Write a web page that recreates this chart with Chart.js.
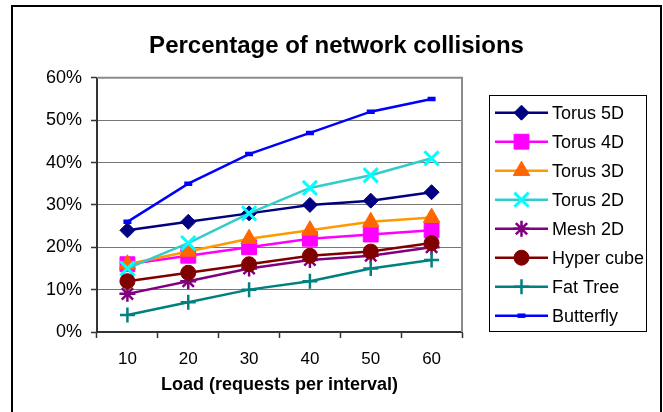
<!DOCTYPE html>
<html>
<head>
<meta charset="utf-8">
<script src="https://cdn.jsdelivr.net/npm/chart.js@4/dist/chart.umd.min.js"></script>
<style>
  html, body { margin: 0; padding: 0; background: #ffffff; }
  #wrap { width: 663px; height: 412px; position: relative; }
</style>
</head>
<body>
<div id="wrap"><canvas id="chart" width="663" height="412"></canvas></div>
<script>
// Load levels (requests per interval) and the collision percentage of each topology
const loads = ['10', '20', '30', '40', '50', '60'];
const yTicks = [0, 10, 20, 30, 40, 50, 60];

const torus5D   = [24, 26, 28, 30, 31, 33];
const torus4D   = [16, 18, 20, 22, 23, 24];
const torus3D   = [16, 19, 22, 24, 26, 27];
const torus2D   = [15, 21, 28, 34, 37, 41];
const mesh2D    = [9, 12, 15, 17, 18, 20];
const hyperCube = [12, 14, 16, 18, 19, 21];
const fatTree   = [4, 7, 10, 12, 15, 17];
const butterfly = [26, 35, 42, 47, 52, 55];

const seriesNames = ['Torus 5D', 'Torus 4D', 'Torus 3D', 'Torus 2D', 'Mesh 2D', 'Hyper cube', 'Fat Tree', 'Butterfly'];
const seriesValues = [torus5D, torus4D, torus3D, torus2D, mesh2D, hyperCube, fatTree, butterfly];

const FONT = '"Liberation Sans", Arial, Helvetica, sans-serif';

// Line colour, marker shape and marker colours per series
const styles = [
  { line: '#000080', point: 'rectRot',  r: 7.5, fill: '#000080', stroke: '#000080', bw: 1 },
  { line: '#FF00FF', point: 'rect',     r: 10.5, fill: '#FF00FF', stroke: '#FF00FF', bw: 1 },
  { line: '#FF9900', point: 'triangle', r: 9.5, fill: '#FF6600', stroke: '#FF6600', bw: 1 },
  { line: '#33CCCC', point: 'crossRot', r: 10,  fill: 'rgba(0,0,0,0)', stroke: '#00FFFF', bw: 3 },
  { line: '#800080', point: 'star',     r: 8,   fill: 'rgba(0,0,0,0)', stroke: '#800080', bw: 2.5 },
  { line: '#800000', point: 'circle',   r: 7.5, fill: '#800000', stroke: '#800000', bw: 1 },
  { line: '#008080', point: 'cross',    r: 7.5, fill: 'rgba(0,0,0,0)', stroke: '#008080', bw: 2.5 },
  { line: '#0000FF', point: 'line',     r: 4,   fill: '#0000FF', stroke: '#0000FF', bw: 4.5 }
];

const datasets = seriesNames.map((name, i) => ({
  label: name,
  data: seriesValues[i],
  borderColor: styles[i].line,
  backgroundColor: styles[i].line,
  borderWidth: 2.5,
  tension: 0,
  fill: false,
  pointStyle: styles[i].point,
  pointRadius: styles[i].r,
  pointHoverRadius: styles[i].r,
  pointBackgroundColor: styles[i].fill,
  pointBorderColor: styles[i].stroke,
  pointBorderWidth: styles[i].bw,
  order: seriesNames.length - i   // later series are painted on top
}));

// Outer frame of the chart and the grey top/right edges of the plot area
const framePlugin = {
  id: 'frame',
  beforeDatasetsDraw(chart) {
    const { ctx, chartArea: a } = chart;
    ctx.save();
    ctx.strokeStyle = '#8c8c8c';
    ctx.lineWidth = 2;
    ctx.beginPath();
    ctx.moveTo(a.left, a.top);
    ctx.lineTo(a.right, a.top);
    ctx.lineTo(a.right, a.bottom);
    ctx.stroke();
    ctx.restore();
  },
  afterDraw(chart) {
    const { ctx } = chart;
    ctx.save();
    ctx.strokeStyle = '#000000';
    ctx.lineWidth = 2;
    ctx.strokeRect(12, 6, 649, 420);
    ctx.restore();
  }
};

// Boxed legend on the right: a line segment with the series marker, then the name
const boxLegendPlugin = {
  id: 'boxLegend',
  afterDraw(chart) {
    const { ctx } = chart;
    const box = { x: 489.5, y: 95.5, w: 157, h: 236 };
    const firstY = 112.7, step = 29;
    ctx.save();
    ctx.fillStyle = '#ffffff';
    ctx.fillRect(box.x, box.y, box.w, box.h);
    ctx.strokeStyle = '#000000';
    ctx.lineWidth = 1;
    ctx.strokeRect(box.x, box.y, box.w, box.h);
    chart.data.datasets.forEach((ds, i) => {
      const y = firstY + step * i;
      ctx.strokeStyle = ds.borderColor;
      ctx.lineWidth = ds.borderWidth;
      ctx.beginPath();
      ctx.moveTo(495, y);
      ctx.lineTo(548, y);
      ctx.stroke();
      ctx.fillStyle = ds.pointBackgroundColor;
      ctx.strokeStyle = ds.pointBorderColor;
      ctx.lineWidth = ds.pointBorderWidth;
      Chart.helpers.drawPoint(ctx, {
        pointStyle: ds.pointStyle,
        radius: ds.pointRadius,
        borderWidth: ds.pointBorderWidth,
        rotation: 0
      }, 521.5, y);
      ctx.fillStyle = '#000000';
      ctx.font = '18px ' + FONT;
      ctx.textAlign = 'left';
      ctx.textBaseline = 'middle';
      ctx.fillText(ds.label, 552, y + 1);
    });
    ctx.restore();
  }
};

new Chart(document.getElementById('chart'), {
  type: 'line',
  data: { labels: loads, datasets },
  plugins: [framePlugin, boxLegendPlugin],
  options: {
    responsive: false,
    animation: false,
    devicePixelRatio: 1,
    layout: { padding: { top: 0, left: 10, right: 0, bottom: 0 } },
    plugins: {
      legend: { display: false },
      tooltip: { enabled: false },
      title: {
        display: true,
        text: 'Percentage of network collisions',
        color: '#000000',
        font: { family: FONT, size: 24, weight: 'bold' },
        padding: { top: 32, bottom: 17 }
      }
    },
    scales: {
      x: {
        type: 'category',
        offset: true,
        grid: {
          offset: true,
          drawOnChartArea: false,
          drawTicks: true,
          tickLength: 6,
          tickColor: '#333333',
          tickWidth: 1.5
        },
        border: { display: true, color: '#333333', width: 2 },
        ticks: {
          color: '#000000',
          font: { family: FONT, size: 17 },
          padding: 11,
          maxRotation: 0
        },
        title: {
          display: true,
          text: 'Load (requests per interval)',
          color: '#000000',
          font: { family: FONT, size: 18, weight: 'bold' },
          padding: { top: 4, bottom: 16 }
        },
        afterFit(scale) { scale.height = 80; }
      },
      y: {
        type: 'linear',
        min: 0,
        max: 60,
        grid: {
          color: '#777777',
          lineWidth: 1,
          drawTicks: true,
          tickLength: 6,
          tickColor: '#333333',
          tickWidth: 1.5
        },
        border: { display: true, color: '#333333', width: 2 },
        ticks: {
          color: '#000000',
          font: { family: FONT, size: 18 },
          padding: 9,
          callback: (v) => v + '%'
        },
        afterBuildTicks(scale) { scale.ticks = yTicks.map(v => ({ value: v })); },
        afterFit(scale) { scale.width = 87; }
      },
      legendSpace: {
        type: 'linear',
        position: 'right',
        display: true,
        grid: { display: false, drawTicks: false },
        border: { display: false },
        ticks: { display: false },
        afterFit(scale) { scale.width = 201; }
      }
    }
  }
});
</script>
</body>
</html>
